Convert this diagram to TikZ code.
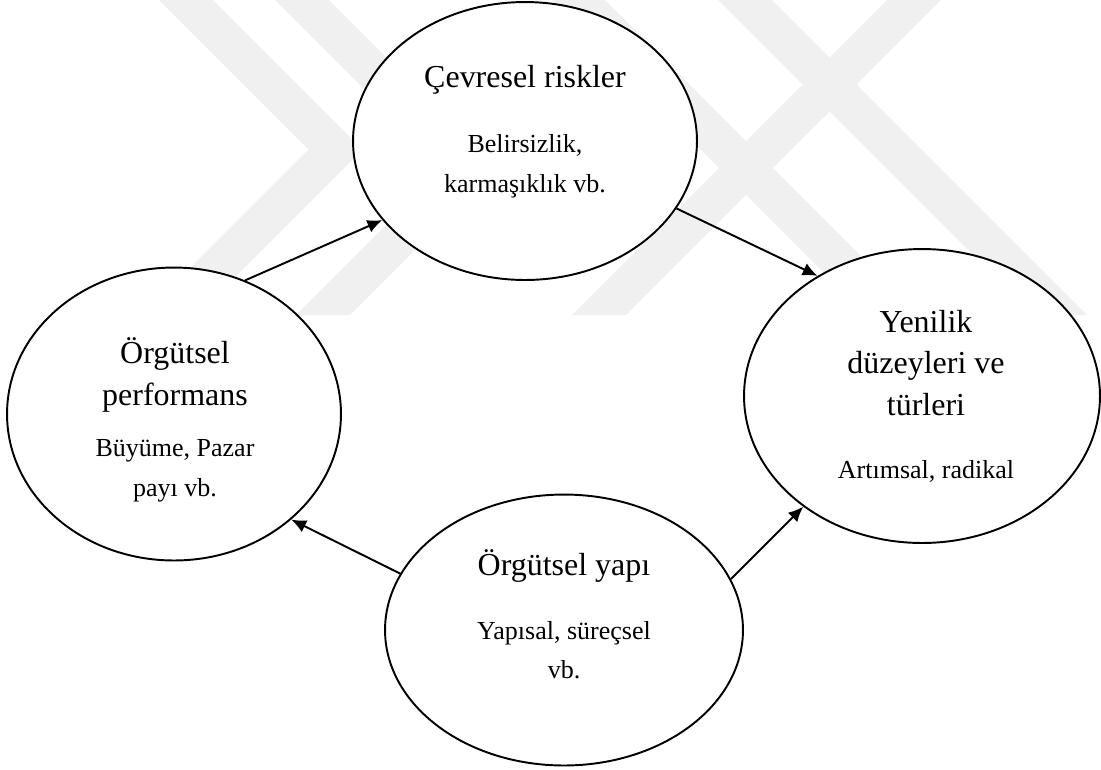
\documentclass[tikz,border=0pt]{standalone}
\usepackage{fontspec}
\setmainfont{Liberation Serif}
\usetikzlibrary{shapes.geometric,arrows.meta}

\begin{document}
\begin{tikzpicture}[x=0.02cm,y=-0.02cm]
    \tikzset{%
      wm/.style={fill=black!6, draw=none},
      blob/.style={ellipse, draw, line width=1.1pt, fill=white, inner sep=0pt},
      head/.style={align=center, inner sep=0pt,
        font=\fontsize{18.2}{23.6}\selectfont},
      body/.style={align=center, inner sep=0pt,
        font=\fontsize{14.8}{22.6}\selectfont},
      link/.style={line width=1.1pt, -{Latex[length=8.5pt,width=7.5pt]}},
    }
    \useasboundingbox (0,0) rectangle (1101,769);

    % faint watermark behind everything
    \fill[wm] (159,0) -- (213,0) -- (362.5,149.5) -- (197,315) -- (143,315) -- (308.5,149.5) -- cycle;
    \fill[wm] (275,0) -- (329,0) -- (497,168) -- (350,315) -- (296,315) -- (443,168) -- cycle;
    \fill[wm] (887,0) -- (941,0) -- (626,315) -- (572,315) -- cycle;
    \fill[wm] (551,0) -- (605,0) -- (920,315) -- (866,315) -- cycle;
    \fill[wm] (718,0) -- (772,0) -- (1087,315) -- (1033,315) -- cycle;

    % the four ellipses
    \node[blob, minimum width=6.88cm, minimum height=5.56cm] (env) at (525,141) {};
    \node[blob, minimum width=6.68cm, minimum height=5.86cm] (perf) at (174,414) {};
    \node[blob, minimum width=7.12cm, minimum height=5.88cm] (inno) at (922,396) {};
    \node[blob, minimum width=7.16cm, minimum height=5.42cm] (struct) at (564,630) {};

    % texts
    \node[head, anchor=base] (envhead) at (525,87) {Çevresel riskler};
    \node[body] (envbody) at (525,166) {Belirsizlik,\\karmaşıklık vb.};

    \node[head] (perfhead) at (175,375) {Örgütsel\\performans};
    \node[body] (perfbody) at (175,471) {Büyüme, Pazar\\payı vb.};

    \node[head] (innohead) at (926,363) {Yenilik\\düzeyleri ve\\türleri};
    \node[body, anchor=base] (innobody) at (926,478) {Artımsal, radikal};

    \node[head, anchor=base] (structhead) at (564,575) {Örgütsel yapı};
    \node[body] (structbody) at (564,650) {Yapısal, süreçsel\\vb.};

    % arrows
    \draw[link] (perf.62) -- (env.209);
    \draw[link] (env.336) -- (inno.131);
    \draw[link] (struct.161) -- (perf.318);
    \draw[link] (struct.17) -- (inno.223);
\end{tikzpicture}
\end{document}
